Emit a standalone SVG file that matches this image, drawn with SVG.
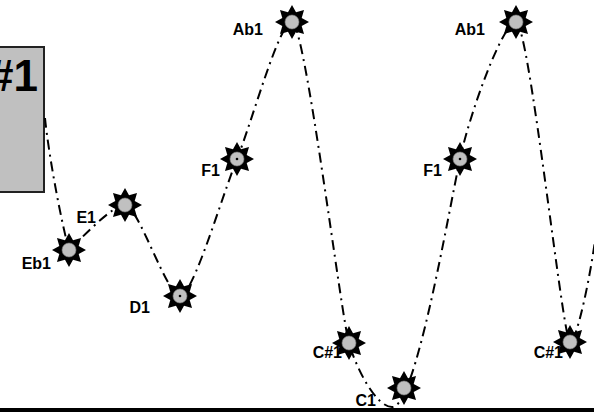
<svg xmlns="http://www.w3.org/2000/svg" xmlns:xlink="http://www.w3.org/1999/xlink" width="594" height="412" viewBox="0 0 594 412">
<style>
.lbl{font-family:"Liberation Sans",Arial,sans-serif;font-weight:bold;font-size:16px;fill:#000;text-anchor:end}
.curve{fill:none;stroke:#000;stroke-width:2;stroke-dasharray:10 5 2 5}
.dot{fill:#000}
</style>
<defs>
<g id="star">
<polygon points="0,-17 4.02,-9.7 12.02,-12.02 9.7,-4.02 17,0 9.7,4.02 12.02,12.02 4.02,9.7 0,17 -4.02,9.7 -12.02,12.02 -9.7,4.02 -17,0 -9.7,-4.02 -12.02,-12.02 -4.02,-9.7" fill="#000"/>
<circle r="7" fill="#c0c0c0" stroke="#808080" stroke-width="0.6"/>
</g>
</defs>
<rect width="594" height="412" fill="#fff"/>
<g id="box">
<rect x="-5" y="47" width="49" height="145" fill="#c0c0c0" stroke="#222" stroke-width="2"/>
<text x="38" y="91" font-family="Liberation Sans,Arial,sans-serif" font-weight="bold" font-size="44" text-anchor="end">#1</text>
</g>
<g id="connectors">
<path class="curve" d="M45,118 C49,158 62,225 69,250 C80,240 112,205 125,205 C138,205 167,296 180,296 C193,296 222,196 237,159 C252,122 279,22 292,22 C305,22 341,316 349,343 C356,368 376,407 392,407 C415,410 448,215 460,159 C470,112 503,22 516,22 C529,22 563,342 570,342 C577,342 592,270 597,225"/>
</g>
<g id="node-eb1"><use xlink:href="#star" x="69" y="250"/><text class="lbl" x="51" y="269">Eb1</text></g>
<g id="node-e1"><use xlink:href="#star" x="125" y="205"/><text class="lbl" x="96" y="223">E1</text></g>
<g id="node-d1"><use xlink:href="#star" x="180" y="296"/><circle class="dot" cx="180" cy="296" r="1.3"/><text class="lbl" x="150" y="313">D1</text></g>
<g id="node-f1a"><use xlink:href="#star" x="237" y="159"/><circle class="dot" cx="237" cy="159" r="1.3"/><text class="lbl" x="220" y="176">F1</text></g>
<g id="node-ab1a"><use xlink:href="#star" x="292" y="22"/><text class="lbl" x="263" y="35">Ab1</text></g>
<g id="node-cs1a"><use xlink:href="#star" x="349" y="343"/><text class="lbl" x="342" y="358">C#1</text></g>
<g id="node-c1"><use xlink:href="#star" x="404" y="388"/><text class="lbl" x="376" y="406">C1</text></g>
<g id="node-f1b"><use xlink:href="#star" x="460" y="159"/><circle class="dot" cx="460" cy="159" r="1.3"/><text class="lbl" x="442" y="176">F1</text></g>
<g id="node-ab1b"><use xlink:href="#star" x="516" y="22"/><text class="lbl" x="485" y="35">Ab1</text></g>
<g id="node-cs1b"><use xlink:href="#star" x="570" y="342"/><text class="lbl" x="563" y="358">C#1</text></g>
<rect id="baseline" x="0" y="408" width="594" height="4" fill="#000"/>
</svg>
